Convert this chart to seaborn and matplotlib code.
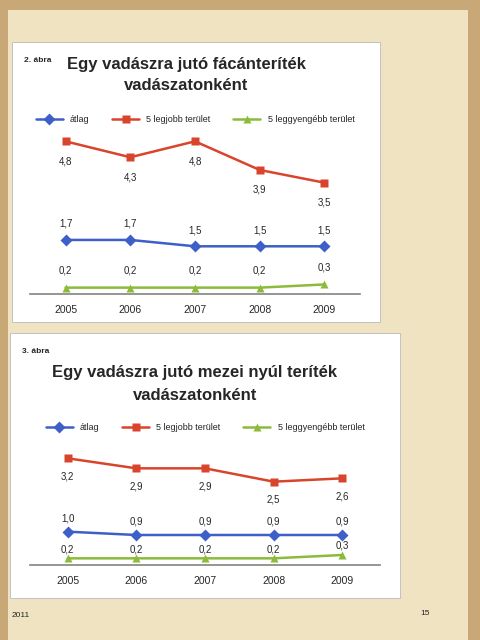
import matplotlib
matplotlib.use("Agg")
import matplotlib.pyplot as plt
import seaborn as sns
import pandas as pd
from matplotlib.patches import Rectangle

sns.set_theme(style="white")
plt.rcParams['font.family'] = ['Liberation Sans', 'DejaVu Sans']

years = ["2005", "2006", "2007", "2008", "2009"]
series_names = ["átlag", "5 legjobb terület", "5 leggyengébb terület"]

fac_atlag = [1.7, 1.7, 1.5, 1.5, 1.5]
fac_legjobb = [4.8, 4.3, 4.8, 3.9, 3.5]
fac_leggyengebb = [0.2, 0.2, 0.2, 0.2, 0.3]

nyul_atlag = [1.0, 0.9, 0.9, 0.9, 0.9]
nyul_legjobb = [3.2, 2.9, 2.9, 2.5, 2.6]
nyul_leggyengebb = [0.2, 0.2, 0.2, 0.2, 0.3]

colors = ["#3f5fc8", "#d9452c", "#8cbb3c"]
markers = ["D", "s", "^"]

W, H = 480, 640
fig = plt.figure(figsize=(4.8, 6.4), dpi=100, facecolor="#c9a878")


def px(x, y, w, h):
    return [x / W, 1 - (y + h) / H, w / W, h / H]


# page
fig.patches.append(Rectangle((8 / W, 1 - 640 / H), 460 / W, 630 / H, transform=fig.transFigure,
                             facecolor="#efe3c2", edgecolor="none", zorder=0))


def panel(box, label, title, title_y, axbox, ymax, values, leg_y, offsets):
    x, y, w, h = box
    fig.patches.append(Rectangle((x / W, 1 - (y + h) / H), w / W, h / H, transform=fig.transFigure,
                                 facecolor="white", edgecolor="#bbbbbb", lw=0.6, zorder=1))
    fig.text((x + 12) / W, 1 - (y + 20) / H, label, fontsize=6, fontweight="bold")
    for i, t in enumerate(title):
        fig.text((x + w / 2 - 10) / W, 1 - (y + title_y + i * 22) / H, t, fontsize=12,
                 fontweight="bold", ha="center", va="center")
    ax = fig.add_axes(px(*axbox), zorder=3)
    ax.set_facecolor("none")
    df = pd.DataFrame({"ev": years * 3,
                       "ertek": values[0] + values[1] + values[2],
                       "sor": [n for n in series_names for _ in years]})
    sns.lineplot(data=df, x="ev", y="ertek", hue="sor", style="sor", palette=colors,
                 markers=markers, dashes=False, markersize=6, lw=1.8, ax=ax,
                 markeredgecolor="none", sort=False)
    for vals, off in zip(values, offsets):
        for i, v in enumerate(vals):
            ax.annotate(f"{v}".replace(".", ","), (i, v), xytext=(0, off * 0.72),
                        textcoords="offset points", ha="center", va="center", fontsize=7)
    ax.set_ylim(0, ymax)
    ax.set_xlim(-0.55, 4.55)
    ax.set_yticks([])
    ax.set_xlabel("")
    ax.set_ylabel("")
    for s in ["top", "right", "left"]:
        ax.spines[s].set_visible(False)
    ax.spines["bottom"].set_color("#888888")
    ax.tick_params(axis="x", labelsize=7.5, length=0, pad=8)
    ax.legend(loc="center", bbox_to_anchor=(0.5, leg_y), ncol=3, frameon=False,
              fontsize=6.5, handlelength=3, columnspacing=2.5)
    return ax


panel((12, 42, 368, 280), "2. ábra", ["Egy vadászra jutó fácánteríték", "vadászatonként"], 22,
      (30, 100, 330, 194), 6.1,
      [fac_atlag, fac_legjobb, fac_leggyengebb], 0.9, [16, -20, 17])
panel((10, 333, 390, 265), "3. ábra", ["Egy vadászra jutó mezei nyúl teríték", "vadászatonként"], 40,
      (30, 425, 350, 140), 4.2,
      [nyul_atlag, nyul_legjobb, nyul_leggyengebb], 0.98, [13, -18, 9])

fig.text(12 / W, 1 - 617 / H, "2011", fontsize=6)
fig.text(420 / W, 1 - 615 / H, "15", fontsize=6)

fig.savefig("out.png", dpi=100, facecolor=fig.get_facecolor())
